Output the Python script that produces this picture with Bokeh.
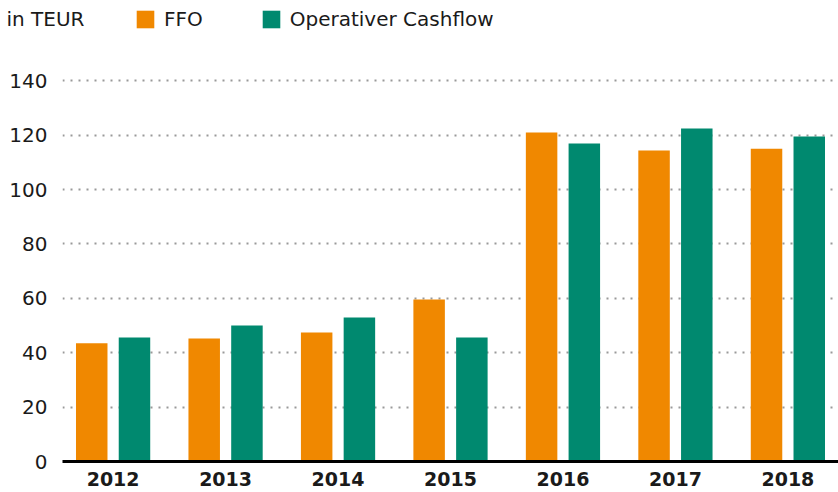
from bokeh.plotting import figure
from bokeh.layouts import column
from bokeh.models import (ColumnDataSource, FactorRange, Range1d, Legend, LegendItem,
                          Label, FixedTicker)
from bokeh.transform import dodge
from bokeh.embed import file_html
from bokeh.resources import INLINE

years = ["2012", "2013", "2014", "2015", "2016", "2017", "2018"]
ffo = [43.5, 45.2, 47.4, 59.6, 121.0, 114.3, 115.0]
cashflow = [45.6, 50.0, 52.9, 45.6, 116.9, 122.4, 119.5]
y_ticks = [0, 20, 40, 60, 80, 100, 120, 140]
unit_label = "in TEUR"
series_names = ["FFO", "Operativer Cashflow"]

ORANGE = "#F08800"
GREEN = "#00896F"
TEXT = "#1a1a1a"
FONT = "DejaVu Sans"

W = 838
HEADER_H = 53
MAIN_H = 439

src = ColumnDataSource(data=dict(year=years, ffo=ffo, cf=cashflow))

# ---------- header (legend row) ----------
hdr = figure(width=W, height=HEADER_H,
             x_range=FactorRange(factors=years), y_range=Range1d(-2, -1),
             x_axis_location=None, y_axis_location=None,
             output_backend="svg", toolbar_location=None,
             min_border_left=0, min_border_right=0, min_border_top=0, min_border_bottom=0)
hdr.grid.visible = False
hdr.outline_line_color = None
# legend keys: the same series, drawn with zero width in the header
h1 = hdr.vbar(x="year", top="ffo", width=0.0, source=src, fill_color=ORANGE, line_color=None)
h2 = hdr.vbar(x="year", top="cf", width=0.0, source=src, fill_color=GREEN, line_color=None)
legend = Legend(
    items=[LegendItem(label=series_names[0], renderers=[h1]),
           LegendItem(label=series_names[1], renderers=[h2])],
    orientation="horizontal", location=(134, 22),
    glyph_width=22, glyph_height=22, label_standoff=8, spacing=57,
    padding=0, margin=0, border_line_color=None, background_fill_alpha=0,
    label_text_font=FONT, label_text_font_size="20px", label_text_color=TEXT,
    label_height=22,
)
hdr.add_layout(legend, "center")
hdr.add_layout(Label(x=6, y=HEADER_H - 18, x_units="screen", y_units="screen", text=unit_label,
                     text_font=FONT, text_font_size="20px", text_color=TEXT,
                     text_baseline="middle"))

# ---------- main chart ----------
p = figure(
    width=W, height=MAIN_H,
    x_range=FactorRange(factors=years, range_padding=-0.05, range_padding_units="absolute"),
    y_range=Range1d(0, 150),
    output_backend="svg", toolbar_location=None,
    min_border_left=62, min_border_right=0, min_border_top=0, min_border_bottom=31,
)
p.outline_line_color = None

for fig in (hdr, p):
    if "frame_align" in fig.properties():
        fig.frame_align = False

r1 = p.vbar(x=dodge("year", -0.19, range=p.x_range), top="ffo", width=0.28, source=src,
            fill_color=ORANGE, line_color=None)
r2 = p.vbar(x=dodge("year", 0.19, range=p.x_range), top="cf", width=0.28, source=src,
            fill_color=GREEN, line_color=None)

p.xgrid.grid_line_color = None
p.ygrid.ticker = FixedTicker(ticks=[t for t in y_ticks if t > 0])
p.ygrid.grid_line_color = "#999999"
p.ygrid.grid_line_width = 2
p.ygrid.grid_line_dash = "2 6"

p.yaxis.ticker = FixedTicker(ticks=y_ticks)
p.yaxis.axis_line_color = None
p.yaxis.major_tick_line_color = None
p.yaxis.minor_tick_line_color = None
p.yaxis.major_tick_out = 0
p.yaxis.major_tick_in = 0
p.yaxis.minor_tick_out = 0
p.yaxis.major_label_text_font = FONT
p.yaxis.major_label_text_font_size = "20px"
p.yaxis.major_label_text_color = TEXT
p.yaxis.major_label_standoff = 15

p.xaxis.axis_line_color = "black"
p.xaxis.axis_line_width = 3
p.xaxis.major_tick_line_color = None
p.xaxis.minor_tick_line_color = None
p.xaxis.major_tick_out = 0
p.xaxis.major_tick_in = 0
p.xaxis.minor_tick_out = 0
p.xaxis.major_label_text_font = FONT
p.xaxis.major_label_text_font_size = "19px"
p.xaxis.major_label_text_font_style = "bold"
p.xaxis.major_label_text_color = TEXT
p.xaxis.major_label_standoff = 10

layout = column(hdr, p, spacing=0)
open("out.html", "w").write(file_html(layout, INLINE))
